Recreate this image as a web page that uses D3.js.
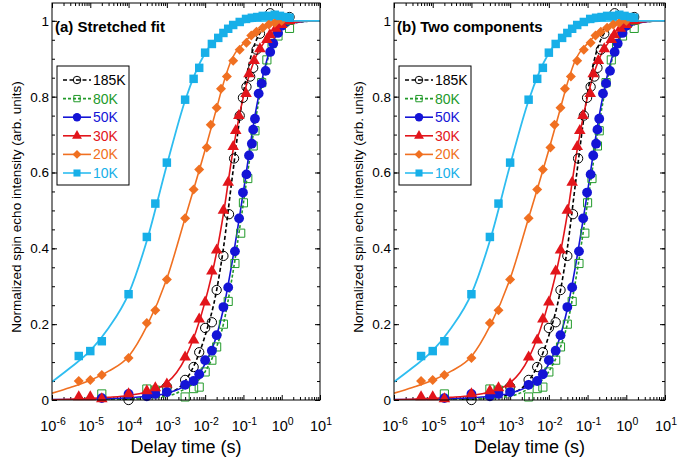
<!DOCTYPE html>
<html>
<head>
<meta charset="utf-8">
<script src="https://cdnjs.cloudflare.com/ajax/libs/d3/7.8.5/d3.min.js"></script>
<style>
body { margin: 0; background: #fff; }
svg { font-family: "Liberation Sans", Arial, sans-serif; }
</style>
</head>
<body>
<div id="chart"></div>
<script>
/* series names, legend order */
var names = ['185K', '80K', '50K', '30K', '20K', '10K'];

/* measured points (time in s, normalized intensity) */
var t185 = [1e-4, 1e-3, 3e-3, 5e-3, 7e-3, 1e-2, 1.5e-2, 2e-2, 3e-2, 4.2e-2, 5.7e-2, 8e-2, 0.097, 0.12, 0.15, 0.18, 0.22, 0.27, 0.5, 1.6];
var v185 = [0.0, 0.035, 0.053, 0.087, 0.126, 0.19, 0.205, 0.29, 0.38, 0.49, 0.637, 0.75, 0.797, 0.826, 0.853, 0.876, 0.924, 0.966, 1.02, 1.01];

var t80 = [2e-5, 3e-4, 5e-4, 1e-3, 3e-3, 5e-3, 7e-3, 1e-2, 1.5e-2, 2e-2, 3e-2, 4e-2, 6e-2, 8.5e-2, 0.1, 0.13, 0.18, 0.2, 0.3, 0.41, 0.56, 0.8, 1.6];
var v80 = [0.016, 0.029, 0.026, 0.03, 0.008, 0.03, 0.034, 0.074, 0.105, 0.14, 0.2, 0.26, 0.36, 0.44, 0.52, 0.584, 0.67, 0.71, 0.837, 0.897, 0.94, 0.96, 0.98];

var t50 = [2e-5, 1e-4, 3e-4, 5e-4, 1e-3, 3e-3, 5e-3, 7e-3, 1e-2, 1.5e-2, 2e-2, 3e-2, 4e-2, 6e-2, 7.7e-2, 9.7e-2, 0.12, 0.14, 0.166, 0.18, 0.2, 0.25, 0.3, 0.38, 0.5, 0.6, 0.8, 1.0];
var v50 = [0.005, 0.016, 0.01, 0.016, 0.021, 0.04, 0.05, 0.068, 0.105, 0.13, 0.171, 0.245, 0.297, 0.392, 0.479, 0.547, 0.595, 0.645, 0.676, 0.713, 0.742, 0.808, 0.835, 0.868, 0.918, 0.94, 0.968, 0.987];

var t30 = [5e-6, 1e-5, 2e-5, 1e-4, 3e-4, 5e-4, 1e-3, 3e-3, 5e-3, 7e-3, 1e-2, 1.5e-2, 2e-2, 3e-2, 4e-2, 5.4e-2, 6.3e-2, 7.6e-2, 0.117, 0.14, 0.19, 0.27, 0.41, 0.49, 0.7, 1.0, 1.6];
var v30 = [0.008, 0.008, 0.003, 0.016, 0.024, 0.032, 0.042, 0.113, 0.158, 0.213, 0.258, 0.34, 0.395, 0.5, 0.574, 0.668, 0.71, 0.75, 0.808, 0.86, 0.895, 0.926, 0.95, 0.963, 0.98, 0.99, 1.0];

var t20 = [5e-6, 1e-5, 2e-5, 1e-4, 3e-4, 5e-4, 1e-3, 3e-3, 5e-3, 7e-3, 1.1e-2, 1.4e-2, 2e-2, 2.6e-2, 3.7e-2, 5.4e-2, 8e-2, 0.12, 0.16, 0.22, 0.32, 0.46, 0.66, 1.0];
var v20 = [0.05, 0.053, 0.066, 0.111, 0.203, 0.237, 0.318, 0.479, 0.555, 0.608, 0.666, 0.726, 0.771, 0.821, 0.853, 0.895, 0.924, 0.942, 0.961, 0.971, 0.982, 0.99, 0.995, 1.0];

var t10 = [5e-6, 1e-5, 2e-5, 1e-4, 3e-4, 5e-4, 1e-3, 3e-3, 5e-3, 7e-3, 1e-2, 1.5e-2, 2.2e-2, 3e-2, 4e-2, 5.4e-2, 8e-2, 0.117, 0.166, 0.23, 0.32, 0.46, 0.66, 0.9, 1.3, 1.6];
var v10 = [0.116, 0.129, 0.155, 0.279, 0.43, 0.518, 0.626, 0.792, 0.847, 0.876, 0.916, 0.939, 0.955, 0.968, 0.979, 0.989, 0.997, 1.005, 1.008, 1.01, 1.013, 1.013, 1.016, 1.013, 1.01, 1.008];

var fitT   = [1e-6, 3e-6, 1e-5, 3e-5, 1e-4, 3e-4, 1e-3, 3e-3, 1e-2, 2e-2, 3e-2, 5e-2, 0.1, 0.2, 0.5, 1, 3, 10];
var fit185 = [0, 0, 0, 0, 0.002, 0.006, 0.016, 0.05, 0.17, 0.29, 0.4, 0.58, 0.81, 0.94, 0.993, 1, 1, 1];
var fit80  = [0, 0, 0, 0, 0.002, 0.005, 0.01, 0.03, 0.075, 0.14, 0.2, 0.32, 0.52, 0.73, 0.92, 0.975, 0.997, 1];
var fit50  = [0.001, 0.001, 0.002, 0.004, 0.006, 0.01, 0.018, 0.038, 0.095, 0.17, 0.24, 0.36, 0.55, 0.75, 0.925, 0.98, 0.997, 1];
var fit30  = [0.0005, 0.002, 0.004, 0.007, 0.012, 0.022, 0.045, 0.11, 0.26, 0.39, 0.49, 0.64, 0.8, 0.9, 0.962, 0.985, 0.998, 1];
var fit20  = [0.018, 0.033, 0.052, 0.076, 0.115, 0.195, 0.32, 0.48, 0.66, 0.77, 0.835, 0.9, 0.94, 0.97, 0.99, 0.997, 1, 1];
var fit10  = [0.048, 0.085, 0.13, 0.19, 0.28, 0.42, 0.62, 0.79, 0.915, 0.955, 0.972, 0.985, 0.995, 0.999, 1, 1, 1, 1];

/* tick labels */
var xExps = [-6, -5, -4, -3, -2, -1, 0, 1];
var yTicks = [0, 0.2, 0.4, 0.6, 0.8, 1];
var yTickLabels = ['0', '0.2', '0.4', '0.6', '0.8', '1'];

var seriesT = [t185, t80, t50, t30, t20, t10];
var seriesV = [v185, v80, v50, v30, v20, v10];
var fits = [fit185, fit80, fit50, fit30, fit20, fit10];

var colors = ['#000000', '#229a2a', '#1414d6', '#e2151b', '#f07021', '#17afe8'];
var lineColors = ['#000000', '#229a2a', '#1414d6', '#e2151b', '#f07021', '#2ebdf0'];
var dashes = ['4,2.5', '3,2', null, null, null, null];
// diamond = square turned 45 degrees, wider than d3's own diamond
var shapes = [d3.symbolCircle, d3.symbolSquare, d3.symbolCircle, d3.symbolTriangle, d3.symbolSquare, d3.symbolSquare];
var turns = [0, 0, 0, 0, 45, 0];
var sizes = [68, 66, 76, 58, 50, 72];
var legendSizes = [44, 40, 56, 42, 40, 50];
var open = [true, true, false, false, false, false];

var width = 678, height = 463;
var plotTop = 3, plotBottom = 400;

var svg = d3.select('#chart')
	.append('svg')
	.attr('width', width)
	.attr('height', height);

var panels = [
	{left: 52, right: 320, title: '(a) Stretched fit', ylabX: 21},
	{left: 394, right: 665, title: '(b) Two components', ylabX: 363}
];

panels.forEach(function(p, pi){

	var x = d3.scaleLog().domain([1e-6, 10]).range([p.left, p.right]);
	var y = d3.scaleLinear().domain([0, 1.047]).range([plotBottom, plotTop]);

	var g = svg.append('g');

	svg.append('clipPath')
		.attr('id', 'clip' + pi)
		.append('rect')
		.attr('x', p.left)
		.attr('y', plotTop)
		.attr('width', p.right - p.left)
		.attr('height', plotBottom - plotTop);

	/* ticks, all pointing inward */
	var majorX = xExps.map(function(e){ return Math.pow(10, e); });
	var minorX = [];
	xExps.slice(0, -1).forEach(function(e){
		for (var k = 2; k < 10; k++) minorX.push(k * Math.pow(10, e));
	});
	var majorY = yTicks;
	var minorY = d3.range(0, 21).map(function(i){ return i * 0.05; });

	function noDomain(sel){ sel.select('.domain').remove(); sel.selectAll('line').attr('stroke', '#000'); }

	g.append('g').attr('transform', 'translate(0,' + plotBottom + ')')
		.call(d3.axisBottom(x).tickValues(minorX).tickSize(-3).tickFormat('')).call(noDomain);
	g.append('g').attr('transform', 'translate(0,' + plotBottom + ')')
		.call(d3.axisBottom(x).tickValues(majorX).tickSize(-5).tickFormat('')).call(noDomain);
	g.append('g').attr('transform', 'translate(0,' + plotTop + ')')
		.call(d3.axisTop(x).tickValues(minorX).tickSize(-3).tickFormat('')).call(noDomain);
	g.append('g').attr('transform', 'translate(0,' + plotTop + ')')
		.call(d3.axisTop(x).tickValues(majorX).tickSize(-5).tickFormat('')).call(noDomain);

	g.append('g').attr('transform', 'translate(' + p.left + ',0)')
		.call(d3.axisLeft(y).tickValues(minorY).tickSize(-3).tickFormat('')).call(noDomain);
	g.append('g').attr('transform', 'translate(' + p.left + ',0)')
		.call(d3.axisLeft(y).tickValues(majorY).tickSize(-5).tickFormat('')).call(noDomain);
	g.append('g').attr('transform', 'translate(' + p.right + ',0)')
		.call(d3.axisRight(y).tickValues(minorY).tickSize(-3).tickFormat('')).call(noDomain);
	g.append('g').attr('transform', 'translate(' + p.right + ',0)')
		.call(d3.axisRight(y).tickValues(majorY).tickSize(-5).tickFormat('')).call(noDomain);

	/* x tick labels 10^n */
	xExps.forEach(function(e){
		var t = g.append('text')
			.attr('x', x(Math.pow(10, e)) + 1)
			.attr('y', 431)
			.attr('text-anchor', 'middle')
			.style('font-size', '14.5px');
		t.append('tspan').text('10');
		t.append('tspan').attr('dy', -6).style('font-size', '10.5px').text(e);
	});

	/* y tick labels */
	yTicks.forEach(function(v, i){
		g.append('text')
			.attr('x', p.left - 3)
			.attr('y', y(v))
			.attr('dy', '0.36em')
			.attr('text-anchor', 'end')
			.style('font-size', '13.5px')
			.text(yTickLabels[i]);
	});

	/* fit lines */
	var line = d3.line()
		.x(function(d){ return x(d[0]); })
		.y(function(d){ return y(d[1]); })
		.curve(d3.curveMonotoneX);

	var fitG = g.append('g').attr('clip-path', 'url(#clip' + pi + ')');
	fits.forEach(function(f, si){
		fitG.append('path')
			.attr('d', line(fitT.map(function(t, j){ return [t, f[j]]; })))
			.style('fill', 'none')
			.style('stroke', lineColors[si])
			.style('stroke-width', si === 5 ? 1.8 : 1.6)
			.style('stroke-dasharray', dashes[si]);
	});

	/* data points */
	seriesT.forEach(function(ts, si){
		var sym = d3.symbol().type(shapes[si]).size(sizes[si]);
		ts.forEach(function(t, j){
			g.append('path')
				.attr('d', sym())
				.attr('transform', 'translate(' + x(t) + ',' + y(seriesV[si][j]) + ') rotate(' + turns[si] + ')')
				.style('fill', open[si] ? 'none' : colors[si])
				.style('stroke', open[si] ? colors[si] : 'none')
				.style('stroke-width', 1);
		});
	});

	/* frame */
	g.append('rect')
		.attr('x', p.left)
		.attr('y', plotTop)
		.attr('width', p.right - p.left)
		.attr('height', plotBottom - plotTop)
		.style('fill', 'none')
		.style('stroke', '#000')
		.style('stroke-width', 1);

	/* title */
	g.append('text')
		.attr('x', p.left + 3)
		.attr('y', 32)
		.style('font-size', '15px')
		.style('font-weight', 'bold')
		.text(p.title);

	/* legend */
	var lg = g.append('g').attr('transform', 'translate(' + (p.left + 5) + ',66)');
	lg.append('rect')
		.attr('width', 72)
		.attr('height', 119)
		.style('fill', '#fff')
		.style('stroke', '#000')
		.style('stroke-width', 1);

	names.forEach(function(n, si){
		var ly = 14 + si * 18.6;
		lg.append('line')
			.attr('x1', 6).attr('x2', 34)
			.attr('y1', ly).attr('y2', ly)
			.style('stroke', lineColors[si])
			.style('stroke-width', 1.6)
			.style('stroke-dasharray', dashes[si]);
		lg.append('path')
			.attr('d', d3.symbol().type(shapes[si]).size(legendSizes[si])())
			.attr('transform', 'translate(20,' + ly + ') rotate(' + turns[si] + ')')
			.style('fill', open[si] ? 'none' : colors[si])
			.style('stroke', open[si] ? colors[si] : 'none')
			.style('stroke-width', 1);
		lg.append('text')
			.attr('x', 36)
			.attr('y', ly + 5)
			.style('font-size', '14px')
			.style('fill', colors[si])
			.text(n);
	});

	/* axis titles */
	g.append('text')
		.attr('x', (p.left + p.right) / 2)
		.attr('y', 453)
		.attr('text-anchor', 'middle')
		.style('font-size', '18px')
		.text('Delay time (s)');

	g.append('text')
		.attr('transform', 'translate(' + p.ylabX + ',207) rotate(-90)')
		.attr('text-anchor', 'middle')
		.style('font-size', '13.5px')
		.text('Normalized spin echo intensity (arb. units)');
});
</script>
</body>
</html>
